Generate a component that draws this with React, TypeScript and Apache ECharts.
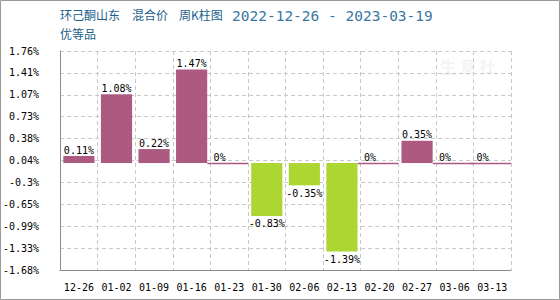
import React, { useEffect, useRef } from "react";
import * as echarts from "echarts";

const titleParts = ["环己酮山东", "混合价", "周K柱图"];
const dateRange = "2022-12-26 - 2023-03-19";
const subtitle = "优等品";
const categories = ["12-26", "01-02", "01-09", "01-16", "01-23", "01-30", "02-06", "02-13", "02-20", "02-27", "03-06", "03-13"];
const values = [0.11, 1.08, 0.22, 1.47, 0, -0.83, -0.35, -1.39, 0, 0.35, 0, 0];
const yTickLabels = ["-1.68%", "-1.33%", "-0.99%", "-0.65%", "-0.3%", "0.04%", "0.38%", "0.73%", "1.07%", "1.41%", "1.76%"];
const yMin = -1.68;
const yMax = 1.76;
const yInterval = 0.344;

const POS = "#AD5A83";
const NEG = "#ADD632";
const MONO = "'DejaVu Sans Mono', monospace";
const CJK = "'Noto Sans CJK SC', sans-serif";
const TITLE_COLOR = "#1B5E8C";
const DATE_COLOR = "#3A77A3";

export default function App() {
  const ref = useRef<HTMLDivElement>(null);
  useEffect(() => {
    if (!ref.current) return;
    const chart = echarts.init(ref.current, null, { renderer: "svg" });
    const barData = values.map((v) => {
      let label: any;
      if (v === 0) {
        label = { position: [0, -11], align: "left", verticalAlign: "top" };
      } else if (v < 0) {
        label = { position: "bottom", distance: 3 };
      } else {
        label = { position: "top", distance: 1 };
      }
      return { value: v, itemStyle: { color: v < 0 ? NEG : POS }, label };
    });
    const zeroData = values.map((v, i) => [i, v]).filter((d) => d[1] === 0);
    const titleLefts = [60, 132, 179];
    chart.setOption({
      animation: false,
      backgroundColor: "#fff",
      graphic: [
        {
          type: "rect",
          shape: { x: 0.5, y: 0.5, width: 559, height: 299 },
          style: { fill: "none", stroke: "#9a9a9a", lineWidth: 1 },
          silent: true,
          z: 100,
        },
        ...titleParts.map((t, i) => ({
          type: "text",
          left: titleLefts[i],
          top: 8,
          style: { text: t, font: `12px ${CJK}`, fill: TITLE_COLOR },
        })),
        {
          type: "text",
          left: 232,
          top: 8,
          style: { text: dateRange, font: `14.5px ${MONO}`, fill: DATE_COLOR },
        },
        {
          type: "text",
          left: 60,
          top: 27,
          style: { text: subtitle, font: `12px ${CJK}`, fill: TITLE_COLOR },
        },
        {
          type: "text",
          left: 440,
          top: 58,
          style: { text: "生 意 社", font: `bold 16px ${CJK}`, fill: "#F6F3F6" },
          silent: true,
        },
      ],
      grid: { left: 60, right: 49, top: 51, bottom: 30, containLabel: false },
      xAxis: {
        type: "category",
        data: categories,
        axisLine: { onZero: false, lineStyle: { color: "#8c8c8c" } },
        axisTick: { show: false },
        axisLabel: { color: "#000", fontFamily: MONO, fontSize: 10, margin: 12, interval: 0 },
        splitLine: { show: true, interval: 0, lineStyle: { color: "#c8c8c8", type: [4, 3] } },
      },
      yAxis: {
        type: "value",
        min: yMin,
        max: yMax,
        interval: yInterval,
        axisLine: { show: true, lineStyle: { color: "#8c8c8c" } },
        axisTick: { show: false },
        axisLabel: {
          color: "#000",
          fontFamily: MONO,
          fontSize: 10,
          margin: 21,
          formatter: (v: number) => {
            const i = Math.round((v - yMin) / yInterval);
            return yTickLabels[i] ?? "";
          },
        },
        splitLine: { show: true, lineStyle: { color: "#c8c8c8", type: [4, 3] } },
      },
      series: [
        {
          type: "custom",
          data: zeroData,
          z: 3,
          renderItem: (params: any, api: any) => {
            const p = api.coord([api.value(0), 0]);
            const w = api.size([1, 0])[0];
            return {
              type: "line",
              shape: { x1: p[0] - w / 2 - 3, y1: p[1] + 0.5, x2: p[0] + w / 2, y2: p[1] + 0.5 },
              style: { stroke: POS, lineWidth: 1.5 },
            };
          },
        },
        {
          type: "bar",
          data: barData,
          barCategoryGap: "17%",
          z: 4,
          label: {
            show: true,
            color: "#000",
            fontFamily: MONO,
            fontSize: 10,
            formatter: (p: any) => `${p.value}%`,
          },
        },
      ],
    });
    return () => chart.dispose();
  }, []);
  return (
    <div style={{ position: "absolute", left: 0, top: 0, width: 560, height: 300 }}>
      <div ref={ref} style={{ width: 560, height: 300 }} />
    </div>
  );
}
